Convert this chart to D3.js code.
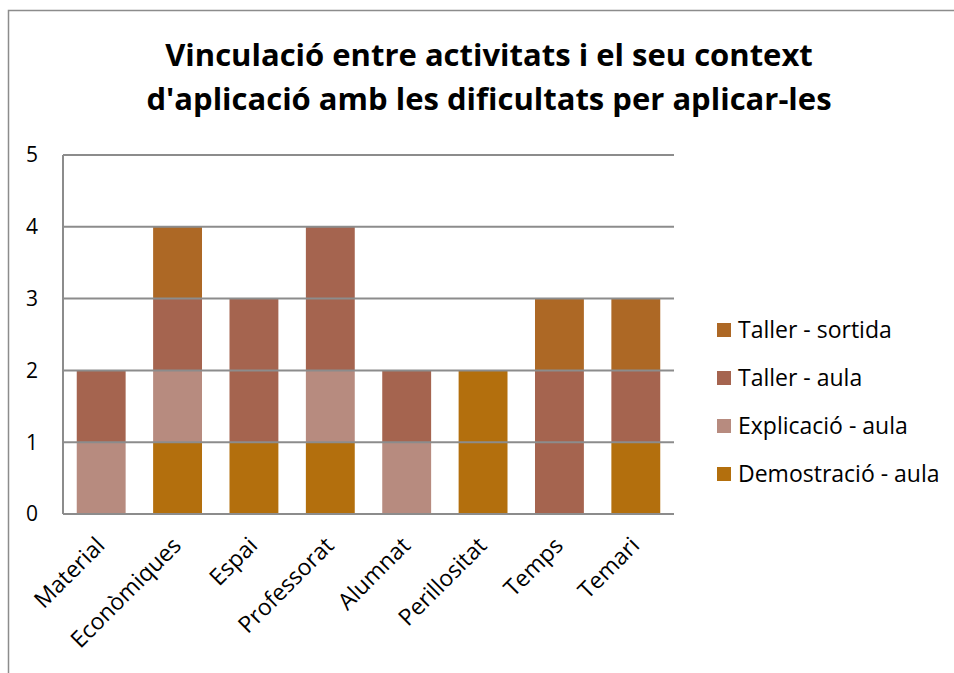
<!DOCTYPE html>
<html>
<head>
<meta charset="utf-8">
<script src="https://cdn.jsdelivr.net/npm/d3@7"></script>
<style>
  body { margin: 0; background: #fff; }
  text { font-family: "Open Sans", sans-serif; fill: #000; }
</style>
</head>
<body>
<div id="chart"></div>
<script>
// data
const categories = ["Material", "Econòmiques", "Espai", "Professorat", "Alumnat", "Perillositat", "Temps", "Temari"];
const seriesNames = ["Demostració - aula", "Explicació - aula", "Taller - aula", "Taller - sortida"];
const demostracio = [0, 1, 1, 1, 0, 2, 0, 1];
const explicacio  = [1, 1, 0, 1, 1, 0, 0, 0];
const tallerAula  = [1, 1, 2, 2, 1, 0, 2, 1];
const tallerSortida = [0, 1, 0, 0, 0, 0, 1, 1];
const yTicks = [0, 1, 2, 3, 4, 5];
const titleLines = ["Vinculació entre activitats i el seu context", "d'aplicació amb les dificultats per aplicar-les"];

const colors = ["#b36f0d", "#b78b7f", "#a5644f", "#ad6825"];

const width = 954, height = 673;
const plot = { left: 63, right: 674, top: 155, bottom: 514 };

const svg = d3.select("#chart").append("svg")
    .attr("width", width)
    .attr("height", height);

// chart border
svg.append("rect")
    .attr("x", 8.5).attr("y", 10.5)
    .attr("width", width + 20).attr("height", height + 20)
    .attr("fill", "none")
    .attr("stroke", "#8c8c8c")
    .attr("stroke-width", 1.5);

// title
svg.append("text")
    .attr("text-anchor", "middle")
    .style("font-size", "31px")
    .style("font-weight", "bold")
  .selectAll("tspan")
    .data(titleLines)
  .enter().append("tspan")
    .attr("x", 489)
    .attr("y", (d, i) => 66 + i * 44)
    .text(d => d);

const rows = categories.map((c, i) => ({
    cat: c,
    "Demostració - aula": demostracio[i],
    "Explicació - aula": explicacio[i],
    "Taller - aula": tallerAula[i],
    "Taller - sortida": tallerSortida[i]
}));
const stacked = d3.stack().keys(seriesNames)(rows);

const x = d3.scaleBand()
    .domain(categories)
    .range([plot.left, plot.right])
    .paddingInner(0.36)
    .paddingOuter(0.18);

const y = d3.scaleLinear()
    .domain([0, 5])
    .range([plot.bottom, plot.top]);

// bars
svg.append("g")
  .selectAll("g")
    .data(stacked)
  .enter().append("g")
    .attr("fill", (d, i) => colors[i])
  .selectAll("rect")
    .data(d => d)
  .enter().append("rect")
    .attr("x", d => x(d.data.cat))
    .attr("y", d => y(d[1]))
    .attr("width", x.bandwidth())
    .attr("height", d => y(d[0]) - y(d[1]));

// gridlines (drawn over bars like the original)
svg.append("g")
  .selectAll("line")
    .data(yTicks)
  .enter().append("line")
    .attr("x1", plot.left)
    .attr("x2", plot.right)
    .attr("y1", d => y(d))
    .attr("y2", d => y(d))
    .attr("stroke", "#8c8c8c")
    .attr("stroke-width", 2);

// y axis line
svg.append("line")
    .attr("x1", plot.left).attr("x2", plot.left)
    .attr("y1", plot.top).attr("y2", plot.bottom)
    .attr("stroke", "#8c8c8c")
    .attr("stroke-width", 2);

// y tick labels
svg.append("g")
  .selectAll("text")
    .data(yTicks)
  .enter().append("text")
    .attr("x", 38)
    .attr("y", d => y(d))
    .attr("dy", "0.35em")
    .attr("text-anchor", "end")
    .style("font-size", "21px")
    .text(d => d);

// x labels, rotated
svg.append("g")
  .selectAll("text")
    .data(categories)
  .enter().append("text")
    .attr("transform", d => `translate(${x(d) + x.bandwidth() / 2 + 5},${plot.bottom + 33}) rotate(-45)`)
    .attr("text-anchor", "end")
    .style("font-size", "23px")
    .text(d => d);

// legend (reverse order, top = Taller - sortida)
const legendItems = seriesNames.map((s, i) => ({ name: s, color: colors[i] })).reverse();
const legend = svg.append("g")
  .selectAll("g")
    .data(legendItems)
  .enter().append("g")
    .attr("transform", (d, i) => `translate(717,${330 + i * 48})`);

legend.append("rect")
    .attr("x", 0).attr("y", -7)
    .attr("width", 14).attr("height", 14)
    .attr("fill", d => d.color);

legend.append("text")
    .attr("x", 21)
    .attr("y", 0)
    .attr("dy", "0.35em")
    .style("font-size", "23px")
    .text(d => d.name);
</script>
</body>
</html>
